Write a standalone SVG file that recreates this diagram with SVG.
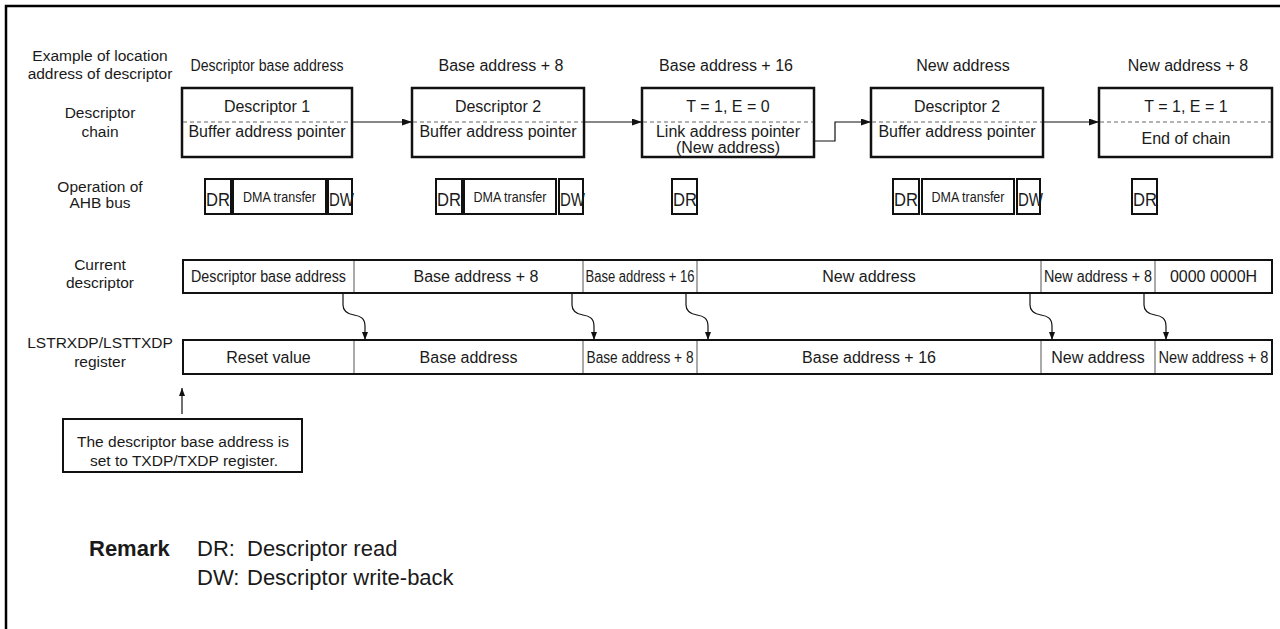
<svg xmlns="http://www.w3.org/2000/svg" width="1280" height="629" viewBox="0 0 1280 629">
<defs>
<style>
text{font-family:"Liberation Sans",Arial,Helvetica,sans-serif;fill:#1a1a1a}
.lbl{font-size:15.5px;text-anchor:middle}
.hdr{font-size:16px;text-anchor:middle}
.bt{font-size:16px;text-anchor:middle}
.rt{font-size:16px;text-anchor:middle}
.bus{font-size:19px}
.dma{font-size:14px;text-anchor:middle}
.box{fill:#fff;stroke:#111;stroke-width:2.5}
.dash{stroke:#666;stroke-width:1.2;stroke-dasharray:4 3}
.conn{stroke:#111;stroke-width:1.2;fill:none}
.bbox{fill:#fff;stroke:#111;stroke-width:2}
.row{fill:#fff;stroke:#111;stroke-width:2}
.div{stroke:#555;stroke-width:1}
.rem{font-size:22px}
</style>
<marker id="ah" markerUnits="userSpaceOnUse" markerWidth="10" markerHeight="7" refX="10" refY="3.5" orient="auto">
<path d="M0,0 L10,3.5 L0,7 z" fill="#111"/>
</marker>
<marker id="ahs" markerUnits="userSpaceOnUse" markerWidth="8" markerHeight="6" refX="8" refY="3" orient="auto">
<path d="M0,0 L8,3 L0,6 z" fill="#111"/>
</marker>
</defs>

<path d="M6 629 V6 H1280" fill="none" stroke="#000" stroke-width="2.5"/>

<g id="row-labels">
<text class="lbl" x="100" y="61">Example of location</text>
<text class="lbl" x="100" y="79">address of descriptor</text>
<text class="lbl" x="100" y="118">Descriptor</text>
<text class="lbl" x="100" y="137">chain</text>
<text class="lbl" x="100" y="192">Operation of</text>
<text class="lbl" x="100" y="208">AHB bus</text>
<text class="lbl" x="100" y="270">Current</text>
<text class="lbl" x="100" y="288">descriptor</text>
<text class="lbl" x="100" y="348">LSTRXDP/LSTTXDP</text>
<text class="lbl" x="100" y="367">register</text>
</g>

<g id="headers">
<text class="hdr" x="267" y="71" textLength="153" lengthAdjust="spacingAndGlyphs">Descriptor base address</text>
<text class="hdr" x="501" y="71">Base address + 8</text>
<text class="hdr" x="726" y="71">Base address + 16</text>
<text class="hdr" x="963" y="71">New address</text>
<text class="hdr" x="1188" y="71">New address + 8</text>
</g>

<g id="desc1">
<rect class="box" x="182" y="88" width="170" height="69"/>
<line class="dash" x1="183" y1="122" x2="351" y2="122"/>
<text class="bt" x="267" y="112">Descriptor 1</text>
<text class="bt" x="267" y="137">Buffer address pointer</text>
</g>
<g id="desc2">
<rect class="box" x="412" y="88" width="172" height="69"/>
<line class="dash" x1="413" y1="122" x2="583" y2="122"/>
<text class="bt" x="498" y="112">Descriptor 2</text>
<text class="bt" x="498" y="137">Buffer address pointer</text>
</g>
<g id="desc3">
<rect class="box" x="642" y="88" width="172" height="69"/>
<line class="dash" x1="643" y1="122" x2="813" y2="122"/>
<text class="bt" x="728" y="112">T = 1, E = 0</text>
<text class="bt" x="728" y="137">Link address pointer</text>
<text class="bt" x="728" y="153">(New address)</text>
</g>
<g id="desc4">
<rect class="box" x="871" y="88" width="172" height="69"/>
<line class="dash" x1="872" y1="122" x2="1042" y2="122"/>
<text class="bt" x="957" y="112">Descriptor 2</text>
<text class="bt" x="957" y="137">Buffer address pointer</text>
</g>
<g id="desc5">
<rect class="box" x="1099" y="88" width="173" height="69"/>
<line class="dash" x1="1100" y1="122" x2="1271" y2="122"/>
<text class="bt" x="1186" y="112">T = 1, E = 1</text>
<text class="bt" x="1186" y="144">End of chain</text>
</g>

<g id="bus1">
<rect class="bbox" x="205" y="179" width="26" height="35"/>
<text class="bus" x="206" y="206" textLength="24" lengthAdjust="spacingAndGlyphs">DR</text>
<rect class="bbox" x="233" y="179" width="93" height="35"/>
<text class="dma" x="279.5" y="202" textLength="73" lengthAdjust="spacingAndGlyphs">DMA transfer</text>
<rect class="bbox" x="328" y="179" width="24" height="35"/>
<text class="bus" x="329" y="206" textLength="25" lengthAdjust="spacingAndGlyphs">DW</text>
</g>
<g id="bus2">
<rect class="bbox" x="436" y="179" width="26" height="35"/>
<text class="bus" x="437" y="206" textLength="24" lengthAdjust="spacingAndGlyphs">DR</text>
<rect class="bbox" x="464" y="179" width="92" height="35"/>
<text class="dma" x="510" y="202" textLength="73" lengthAdjust="spacingAndGlyphs">DMA transfer</text>
<rect class="bbox" x="559" y="179" width="24" height="35"/>
<text class="bus" x="560" y="206" textLength="25" lengthAdjust="spacingAndGlyphs">DW</text>
</g>
<g id="bus3">
<rect class="bbox" x="672" y="179" width="25" height="35"/>
<text class="bus" x="673" y="206" textLength="24" lengthAdjust="spacingAndGlyphs">DR</text>
</g>
<g id="bus4">
<rect class="bbox" x="893" y="179" width="26" height="35"/>
<text class="bus" x="894" y="206" textLength="24" lengthAdjust="spacingAndGlyphs">DR</text>
<rect class="bbox" x="922" y="179" width="92" height="35"/>
<text class="dma" x="968" y="202" textLength="73" lengthAdjust="spacingAndGlyphs">DMA transfer</text>
<rect class="bbox" x="1017" y="179" width="23" height="35"/>
<text class="bus" x="1018" y="206" textLength="25" lengthAdjust="spacingAndGlyphs">DW</text>
</g>
<g id="bus5">
<rect class="bbox" x="1132" y="179" width="25" height="35"/>
<text class="bus" x="1133" y="206" textLength="24" lengthAdjust="spacingAndGlyphs">DR</text>
</g>

<g id="current-descriptor">
<rect class="row" x="183" y="260" width="1089" height="33"/>
<line class="div" x1="354" y1="261" x2="354" y2="292"/>
<line class="div" x1="583" y1="261" x2="583" y2="292"/>
<line class="div" x1="697" y1="261" x2="697" y2="292"/>
<line class="div" x1="1041" y1="261" x2="1041" y2="292"/>
<line class="div" x1="1155" y1="261" x2="1155" y2="292"/>
<text class="rt" x="268.5" y="282" textLength="155" lengthAdjust="spacingAndGlyphs">Descriptor base address</text>
<text class="rt" x="476" y="282">Base address + 8</text>
<text class="rt" x="640" y="282" textLength="109" lengthAdjust="spacingAndGlyphs">Base address + 16</text>
<text class="rt" x="869" y="282">New address</text>
<text class="rt" x="1098" y="282" textLength="108" lengthAdjust="spacingAndGlyphs">New address + 8</text>
<text class="rt" x="1213.5" y="282">0000 0000H</text>
</g>

<g id="register">
<rect class="row" x="183" y="340" width="1089" height="34"/>
<line class="div" x1="354" y1="341" x2="354" y2="373"/>
<line class="div" x1="583" y1="341" x2="583" y2="373"/>
<line class="div" x1="697" y1="341" x2="697" y2="373"/>
<line class="div" x1="1041" y1="341" x2="1041" y2="373"/>
<line class="div" x1="1155" y1="341" x2="1155" y2="373"/>
<text class="rt" x="268.5" y="363">Reset value</text>
<text class="rt" x="468.5" y="363">Base address</text>
<text class="rt" x="640" y="363" textLength="107" lengthAdjust="spacingAndGlyphs">Base address + 8</text>
<text class="rt" x="869" y="363">Base address + 16</text>
<text class="rt" x="1098" y="363">New address</text>
<text class="rt" x="1213.5" y="363" textLength="110" lengthAdjust="spacingAndGlyphs">New address + 8</text>
</g>

<g id="callout">
<rect x="63" y="419" width="239" height="53" fill="#fff" stroke="#111" stroke-width="2"/>
<text class="lbl" x="183" y="447">The descriptor base address is</text>
<text class="lbl" x="184" y="466">set to TXDP/TXDP register.</text>
</g>

<g id="remark">
<text class="rem" x="89" y="556" font-weight="bold">Remark</text>
<text class="rem" x="197" y="556">DR:</text>
<text class="rem" x="247" y="556">Descriptor read</text>
<text class="rem" x="197" y="585">DW:</text>
<text class="rem" x="247" y="585">Descriptor write-back</text>
</g>

<g id="connectors">
<line class="conn" x1="352" y1="122" x2="412" y2="122" marker-end="url(#ah)"/>
<line class="conn" x1="584" y1="122" x2="642" y2="122" marker-end="url(#ah)"/>
<path class="conn" d="M814 141 H835 V122 H871" marker-end="url(#ah)"/>
<line class="conn" x1="1043" y1="122" x2="1099" y2="122" marker-end="url(#ah)"/>
<path class="conn" d="M343 293 V305 C343 312 348 314 354 315 C360 316 365 318 365 326 V340" marker-end="url(#ahs)"/>
<path class="conn" d="M572 293 V305 C572 312 577 314 583 315 C589 316 594 318 594 326 V340" marker-end="url(#ahs)"/>
<path class="conn" d="M686 293 V305 C686 312 691 314 697 315 C703 316 708 318 708 326 V340" marker-end="url(#ahs)"/>
<path class="conn" d="M1030 293 V305 C1030 312 1035 314 1041 315 C1047 316 1052 318 1052 326 V340" marker-end="url(#ahs)"/>
<path class="conn" d="M1144 293 V305 C1144 312 1149 314 1155 315 C1161 316 1166 318 1166 326 V340" marker-end="url(#ahs)"/>
<line class="conn" x1="182" y1="414" x2="182" y2="388" marker-end="url(#ahs)"/>
</g>
</svg>
